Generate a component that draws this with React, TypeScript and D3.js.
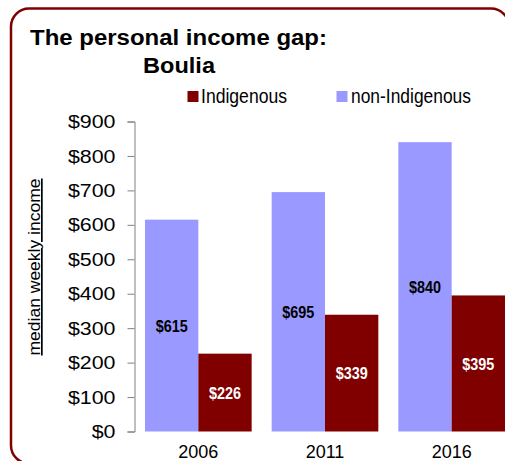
import React, { useEffect, useRef } from "react";
import * as d3 from "d3";

const years = ["2006", "2011", "2016"];
const seriesNames = ["non-Indigenous", "Indigenous"];
const nonIndigenous = [615, 695, 840];
const indigenous = [226, 339, 395];
const yTicks = [0, 100, 200, 300, 400, 500, 600, 700, 800, 900];

const colours: Record<string, string> = {
  "non-Indigenous": "#9999ff",
  Indigenous: "#800000",
};
const labelColours: Record<string, string> = {
  "non-Indigenous": "#000000",
  Indigenous: "#ffffff",
};

const App: React.FC = () => {
  const svgRef = useRef<SVGSVGElement>(null);

  useEffect(() => {
    const svg = d3.select(svgRef.current);
    svg.selectAll("*").remove();

    const font = "'Liberation Sans', Arial, sans-serif";

    // frame (right/bottom side runs off the picture)
    const r = 18;
    const frame = d3.path();
    frame.moveTo(509, 480);
    frame.lineTo(509, 8.5 + r);
    frame.arcTo(509, 8.5, 509 - r, 8.5, r);
    frame.lineTo(11 + r, 8.5);
    frame.arcTo(11, 8.5, 11, 8.5 + r, r);
    frame.lineTo(11, 463.5 - r);
    frame.arcTo(11, 463.5, 11 + r, 463.5, r);
    frame.lineTo(480, 463.5);
    svg
      .append("path")
      .attr("d", frame.toString())
      .attr("fill", "none")
      .attr("stroke", "#800000")
      .attr("stroke-width", 2.5);

    // title
    svg
      .append("text")
      .attr("x", 30)
      .attr("y", 45)
      .attr("font-family", font)
      .attr("font-weight", "bold")
      .attr("font-size", 22)
      .attr("textLength", 297)
      .attr("lengthAdjust", "spacingAndGlyphs")
      .text("The personal income gap:");
    svg
      .append("text")
      .attr("x", 143)
      .attr("y", 73)
      .attr("font-family", font)
      .attr("font-weight", "bold")
      .attr("font-size", 22)
      .attr("textLength", 72)
      .attr("lengthAdjust", "spacingAndGlyphs")
      .text("Boulia");

    // scales
    const x = d3
      .scaleBand<string>()
      .domain(years)
      .range([135, 515])
      .paddingInner(0.158)
      .paddingOuter(0.079);
    const xSub = d3
      .scaleBand<string>()
      .domain(seriesNames)
      .range([0, x.bandwidth()]);
    const y = d3.scaleLinear().domain([0, 900]).range([431.5, 121.5]);

    const rows = years.map((yr, i) => ({
      year: yr,
      values: [
        { key: "non-Indigenous", value: nonIndigenous[i] },
        { key: "Indigenous", value: indigenous[i] },
      ],
    }));

    // bars
    const groups = svg
      .append("g")
      .selectAll("g")
      .data(rows)
      .join("g")
      .attr("transform", (d) => `translate(${x(d.year)},0)`);

    groups
      .selectAll("rect")
      .data((d) => d.values)
      .join("rect")
      .attr("x", (d) => xSub(d.key)!)
      .attr("y", (d) => y(d.value))
      .attr("width", xSub.bandwidth())
      .attr("height", (d) => y(0) - y(d.value))
      .attr("fill", (d) => colours[d.key]);

    // value labels
    groups
      .selectAll("text")
      .data((d) => d.values)
      .join("text")
      .attr("x", (d) => xSub(d.key)! + xSub.bandwidth() / 2)
      .attr("y", (d) => (y(d.value) + y(0)) / 2)
      .attr("dy", "0.36em")
      .attr("text-anchor", "middle")
      .attr("font-family", font)
      .attr("font-weight", "bold")
      .attr("font-size", 17)
      .attr("textLength", 32)
      .attr("lengthAdjust", "spacingAndGlyphs")
      .attr("fill", (d) => labelColours[d.key])
      .text((d) => `$${d.value}`);

    // y axis
    const yAxis = d3
      .axisLeft(y)
      .tickValues(yTicks)
      .tickSize(7)
      .tickSizeOuter(7)
      .tickPadding(12)
      .tickFormat((d) => `$${d}`);
    const gy = svg.append("g").attr("transform", "translate(134.5,0)").call(yAxis);
    gy.select(".domain").attr("stroke", "#808080");
    gy.selectAll(".tick line").attr("stroke", "#808080");
    gy.selectAll(".tick text")
      .attr("font-family", font)
      .attr("font-size", 19)
      .attr("fill", "#000000")
      .attr("textLength", (d: any) => (String(d).length + 1) * 11.9)
      .attr("lengthAdjust", "spacingAndGlyphs");

    // x axis
    const xAxis = d3.axisBottom(x).tickSize(0).tickPadding(14);
    const gx = svg.append("g").attr("transform", "translate(0,431.5)").call(xAxis);
    gx.select(".domain").remove();
    gx.selectAll(".tick text")
      .attr("font-family", font)
      .attr("font-size", 18)
      .attr("fill", "#000000");

    // y title
    svg
      .append("text")
      .attr("transform", "translate(40,267) rotate(-90)")
      .attr("text-anchor", "middle")
      .attr("font-family", font)
      .attr("font-size", 17)
      .attr("text-decoration", "underline")
      .attr("textLength", 177)
      .attr("lengthAdjust", "spacingAndGlyphs")
      .text("median weekly income");

    // legend
    const legend = [
      { key: "Indigenous", sx: 187.5, tx: 201, len: 86 },
      { key: "non-Indigenous", sx: 336.5, tx: 351, len: 120 },
    ];
    const lg = svg.append("g").selectAll("g").data(legend).join("g");
    lg.append("rect")
      .attr("x", (d) => d.sx)
      .attr("y", 91)
      .attr("width", 11)
      .attr("height", 11)
      .attr("fill", (d) => colours[d.key]);
    lg.append("text")
      .attr("x", (d) => d.tx)
      .attr("y", 103)
      .attr("font-family", font)
      .attr("font-size", 20)
      .attr("textLength", (d) => d.len)
      .attr("lengthAdjust", "spacingAndGlyphs")
      .text((d) => d.key);

    return () => {
      svg.selectAll("*").remove();
    };
  }, []);

  return (
    <svg
      ref={svgRef}
      width="505"
      height="461"
      style={{ position: "absolute", left: 0, top: 0, background: "#ffffff" }}
    />
  );
};

export default App;
